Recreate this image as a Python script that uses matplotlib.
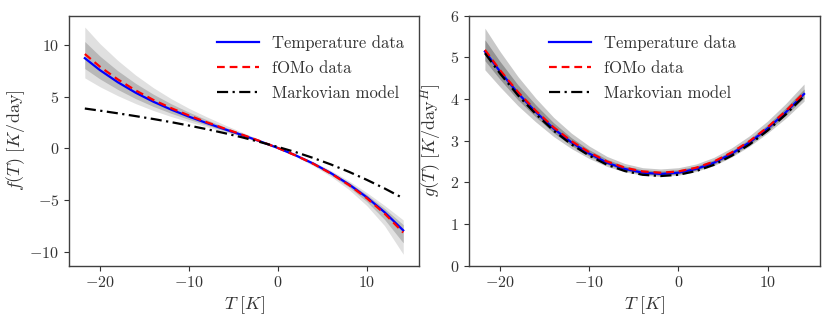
import matplotlib
matplotlib.use("Agg")
import matplotlib.pyplot as plt

plt.rcParams['mathtext.fontset'] = 'cm'
plt.rcParams['font.family'] = 'serif'
plt.rcParams['font.serif'] = ['cmr10']
plt.rcParams['axes.formatter.use_mathtext'] = True
plt.rcParams['axes.unicode_minus'] = True

# temperature grid
T = [-21.7, -20, -18, -16, -14, -12, -10, -8, -6, -4, -2, 0, 2, 4, 6, 8, 10, 12, 14.1]

# drift f(T)
f_temp = [8.70, 7.55, 6.39, 5.38, 4.51, 3.75, 3.07, 2.45, 1.86, 1.29, 0.69, 0.05,
          -0.66, -1.46, -2.39, -3.46, -4.70, -6.14, -7.89]
f_fomo = [9.10, 7.88, 6.66, 5.60, 4.68, 3.89, 3.18, 2.53, 1.92, 1.33, 0.71, 0.05,
          -0.67, -1.48, -2.43, -3.52, -4.79, -6.27, -8.10]
f_markov = [3.85, 3.645, 3.39, 3.12, 2.84, 2.54, 2.21, 1.86, 1.48, 1.07, 0.62, 0.15,
            -0.35, -0.92, -1.55, -2.25, -3.02, -3.85, -4.80]
f_ens_outer_hi = [11.70, 10.10, 8.49, 7.08, 5.86, 4.80, 3.87, 3.05, 2.28, 1.56, 0.84, 0.15,
                  -0.54, -1.28, -2.14, -3.13, -4.25, -5.49, -6.89]
f_ens_outer_lo = [6.80, 5.95, 5.09, 4.33, 3.66, 3.08, 2.57, 2.08, 1.60, 1.12, 0.59, -0.03,
                  -0.78, -1.66, -2.71, -3.96, -5.50, -7.44, -10.19]
f_ens_inner_hi = [10.30, 8.90, 7.49, 6.28, 5.23, 4.31, 3.50, 2.77, 2.08, 1.43, 0.77, 0.10,
                  -0.60, -1.37, -2.26, -3.28, -4.45, -5.78, -7.34]
f_ens_inner_lo = [7.70, 6.70, 5.69, 4.81, 4.05, 3.39, 2.80, 2.25, 1.72, 1.20, 0.64, 0.01,
                  -0.72, -1.56, -2.55, -3.72, -5.12, -6.84, -9.09]

# diffusion g(T)
g_temp = [5.14, 4.66, 4.14, 3.69, 3.29, 2.96, 2.69, 2.47, 2.32, 2.23, 2.20, 2.23,
          2.32, 2.47, 2.69, 2.96, 3.29, 3.67, 4.12]
g_fomo = [5.18, 4.69, 4.17, 3.72, 3.32, 2.99, 2.72, 2.50, 2.35, 2.26, 2.23, 2.26,
          2.35, 2.50, 2.72, 2.99, 3.32, 3.70, 4.15]
g_markov = [5.10, 4.61, 4.09, 3.64, 3.24, 2.91, 2.64, 2.42, 2.27, 2.18, 2.15, 2.18,
            2.27, 2.42, 2.64, 2.91, 3.24, 3.62, 4.07]
g_ens_outer_hi = [5.70, 5.14, 4.54, 4.02, 3.56, 3.18, 2.87, 2.62, 2.45, 2.35, 2.32, 2.35,
                  2.44, 2.60, 2.83, 3.12, 3.47, 3.88, 4.36]
g_ens_outer_lo = [4.70, 4.29, 3.84, 3.45, 3.10, 2.81, 2.57, 2.38, 2.25, 2.17, 2.14, 2.17,
                  2.26, 2.40, 2.61, 2.87, 3.18, 3.53, 3.95]
g_ens_inner_hi = [5.42, 4.90, 4.34, 3.86, 3.43, 3.07, 2.78, 2.55, 2.39, 2.30, 2.27, 2.30,
                  2.39, 2.54, 2.76, 3.04, 3.38, 3.78, 4.24]
g_ens_inner_lo = [4.92, 4.47, 3.98, 3.57, 3.19, 2.88, 2.63, 2.43, 2.28, 2.20, 2.17, 2.20,
                  2.29, 2.43, 2.64, 2.91, 3.23, 3.60, 4.03]

labels = ['Temperature data', 'fOMo data', 'Markovian model']

fig = plt.figure(figsize=(8.3, 3.2), dpi=100)
ax1 = fig.add_axes([0.083, 0.170, 0.422, 0.781])
ax2 = fig.add_axes([0.565, 0.170, 0.423, 0.781])

text_color = '0.2'

def style(ax):
    for s in ax.spines.values():
        s.set_color('0.25')
        s.set_linewidth(1.0)
    ax.tick_params(colors=text_color, labelsize=11.5, direction='out', length=3.5, width=0.8)
    ax.set_xticks([-20, -10, 0, 10])
    ax.set_xlabel(r'$T\ [K]$', fontsize=13, color=text_color, labelpad=3)

# left panel
ax1.fill_between(T, f_ens_outer_lo, f_ens_outer_hi, color='#e0e0e0', lw=0)
ax1.fill_between(T, f_ens_inner_lo, f_ens_inner_hi, color='#b8b8b8', lw=0)
ax1.plot(T, f_temp, color='blue', lw=1.6, label=labels[0])
ax1.plot(T, f_fomo, color='red', lw=1.6, ls=(0, (3.5, 2.2)), label=labels[1])
ax1.plot(T, f_markov, color='black', lw=1.6, ls=(0, (5, 2, 1, 2)), label=labels[2])
ax1.set_yticks([-10, -5, 0, 5, 10])
ax1.set_ylabel(r'$f(T)\ [K/\mathrm{day}]$', fontsize=13, color=text_color, labelpad=2)
style(ax1)
leg1 = ax1.legend(loc='upper right', bbox_to_anchor=(1.012, 1.0), frameon=False,
                  fontsize=12, handlelength=2.5, labelspacing=0.6, borderaxespad=0.75)
for t in leg1.get_texts():
    t.set_color(text_color)

# right panel
ax2.fill_between(T, g_ens_outer_lo, g_ens_outer_hi, color='#c8c8c8', lw=0)
ax2.fill_between(T, g_ens_inner_lo, g_ens_inner_hi, color='#949494', lw=0)
ax2.plot(T, g_temp, color='blue', lw=1.6, label=labels[0])
ax2.plot(T, g_fomo, color='red', lw=1.6, ls=(0, (3.5, 2.2)), label=labels[1])
ax2.plot(T, g_markov, color='black', lw=1.6, ls=(0, (5, 2, 1, 2)), label=labels[2])
ax2.set_ylim(0, 6)
ax2.set_yticks([0, 1, 2, 3, 4, 5, 6])
ax2.set_ylabel(r'$g(T)\ [K/\mathrm{day}^H]$', fontsize=13, color=text_color, labelpad=4)
style(ax2)
leg2 = ax2.legend(loc='upper center', bbox_to_anchor=(0.495, 1.0), frameon=False,
                  fontsize=12, handlelength=2.5, labelspacing=0.6, borderaxespad=0.75)
for t in leg2.get_texts():
    t.set_color(text_color)

fig.savefig('out.png', dpi=100)
